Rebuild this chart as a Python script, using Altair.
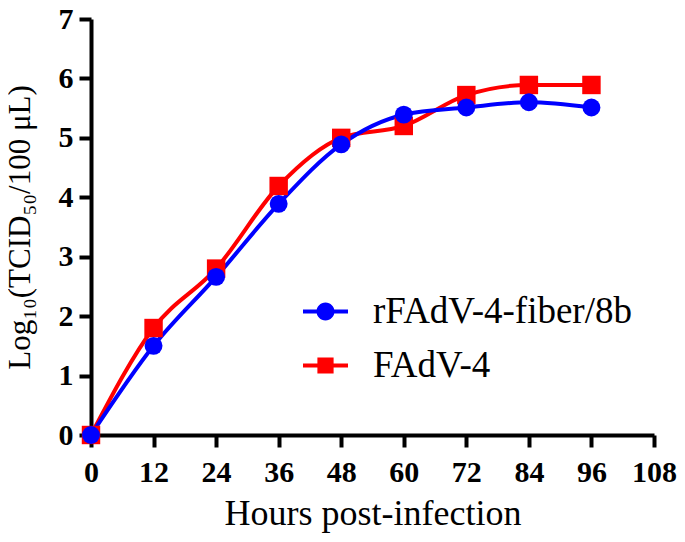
import altair as alt
import pandas as pd

hours = [0, 12, 24, 36, 48, 60, 72, 84, 96]
recomb = [0.0, 1.50, 2.66, 3.89, 4.89, 5.39, 5.51, 5.60, 5.51]
wild = [0.0, 1.80, 2.80, 4.19, 5.00, 5.20, 5.72, 5.89, 5.89]
series = ["rFAdV-4-fiber/8b", "FAdV-4"]
colors = ["#0000FF", "#FF0000"]
x_ticks = [0, 12, 24, 36, 48, 60, 72, 84, 96, 108]
y_ticks = [0, 1, 2, 3, 4, 5, 6, 7]

rows = []
for h, v in zip(hours, wild):
    rows.append({"h": h, "v": v, "s": series[1], "o": 0})
for h, v in zip(hours, recomb):
    rows.append({"h": h, "v": v, "s": series[0], "o": 1})
df = pd.DataFrame(rows)

circle_path = ("M -1 -0.09 H 1 V 0.09 H -1 Z "
               "M 0.4 0 A 0.4 0.4 0 1 1 -0.4 0 A 0.4 0.4 0 1 1 0.4 0 Z")
square_path = ("M -1 -0.09 H 1 V 0.09 H -1 Z "
               "M -0.36 -0.36 H 0.36 V 0.36 H -0.36 Z")

leg = alt.Legend(title=None, orient="none", legendX=212, legendY=270,
                 symbolSize=2025, labelFontSize=37, labelFont="Liberation Serif",
                 labelColor="black", labelOffset=25, rowPadding=13,
                 symbolStrokeWidth=0, labelLimit=400, symbolOpacity=1)
cscale = alt.Scale(domain=series, range=colors)

xenc = alt.X("h:Q", scale=alt.Scale(domain=[0, 108], nice=False),
             axis=alt.Axis(values=x_ticks, format="d", title="Hours post-infection"))
yenc = alt.Y("v:Q", scale=alt.Scale(domain=[0, 7], nice=False),
             axis=alt.Axis(values=y_ticks, format="d", title="Log₁₀(TCID₅₀/100 μL)"))

lines = alt.Chart(df).mark_line(interpolate="monotone", strokeWidth=4).encode(
    x=xenc, y=yenc, color=alt.Color("s:N", scale=cscale, legend=leg),
    detail="s:N", order="o:Q")

pts_sq = alt.Chart(df).transform_filter(alt.datum.o == 0).mark_point(
    filled=True, opacity=1, size=340, shape="square").encode(
    x="h:Q", y="v:Q", color=alt.value("#FF0000"))
pts_c = alt.Chart(df).transform_filter(alt.datum.o == 1).mark_point(
    filled=True, opacity=1, size=320, shape="circle").encode(
    x="h:Q", y="v:Q", color=alt.value("#0000FF"))

legend_layer = alt.Chart(df).mark_point(opacity=0, filled=True).encode(
    x="h:Q", y="v:Q",
    color=alt.Color("s:N", scale=cscale, legend=leg),
    shape=alt.Shape("s:N", scale=alt.Scale(domain=series, range=[circle_path, square_path]), legend=leg))

chart = alt.layer(lines, pts_sq, pts_c, legend_layer).properties(
    width=563, height=416,
    autosize=alt.AutoSizeParams(type="none"),
    padding={"left": 83, "top": 11, "right": 23, "bottom": 99},
).configure_view(stroke=None).configure_axis(
    grid=False, domainColor="black", domainWidth=4, tickColor="black", tickWidth=4,
    tickSize=12, labelFont="Liberation Serif", labelFontWeight="bold", labelFontSize=30,
    labelColor="black", titleFont="Liberation Serif", titleFontWeight="normal",
    titleColor="black",
).configure_axisX(titlePadding=9, labelPadding=10, titleFontSize=36, labelFlush=False
).configure_axisY(titlePadding=22, labelPadding=6, titleFontSize=31, labelFlush=False)

chart.save("out.html", embed_options={"renderer": "svg", "actions": False})
